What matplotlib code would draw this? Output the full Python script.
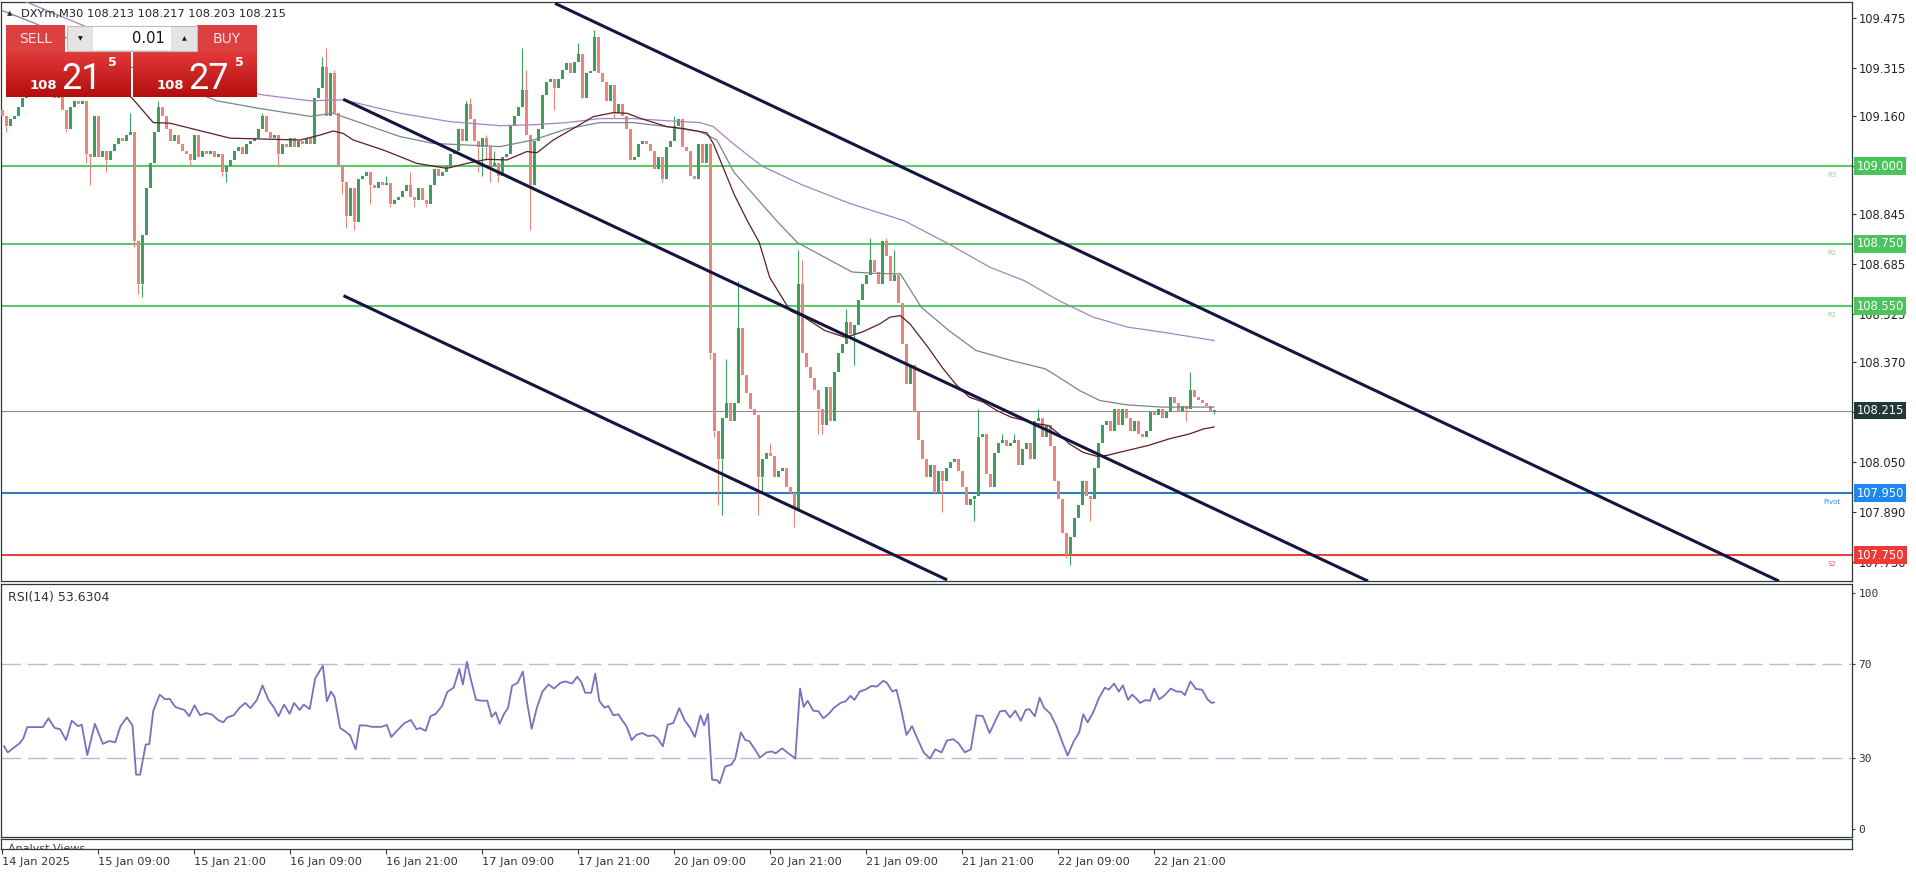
import numpy as np
import matplotlib.pyplot as plt
from matplotlib.patches import Rectangle
from matplotlib.colors import LinearSegmentedColormap

# ---- data: DXYm M30, bar index 0 = first bar on screen ----
symbol = "DXYm,M30"
first_open = 109.18
closes = [
    109.16, 109.13, 109.15, 109.16, 109.19, 109.22, 109.23, 109.25, 109.24, 109.24,
    109.25, 109.23, 109.24, 109.22, 109.24, 109.18, 109.12, 109.19, 109.21, 109.20,
    109.21, 109.04, 109.03, 109.16, 109.03, 109.05, 109.02, 109.05, 109.07, 109.09,
    109.08, 109.10, 109.11, 108.76, 108.62, 108.78, 108.93, 109.01, 109.11, 109.19,
    109.16, 109.12, 109.08, 109.10, 109.07, 109.05, 109.04, 109.02, 109.10, 109.03,
    109.05, 109.04, 109.05, 109.03, 109.04, 108.98, 109.00, 109.02, 109.05, 109.06,
    109.04, 109.07, 109.08, 109.09, 109.12, 109.16, 109.11, 109.09, 109.10, 109.04,
    109.07, 109.06, 109.09, 109.06, 109.08, 109.07, 109.09, 109.07, 109.22, 109.25,
    109.32, 109.16, 109.30, 109.17, 109.00, 108.95, 108.84, 108.93, 108.82, 108.96,
    108.97, 108.98, 108.94, 108.93, 108.95, 108.94, 108.945, 108.88, 108.89, 108.90,
    108.92, 108.94, 108.90, 108.89, 108.93, 108.89, 108.88, 108.94, 108.99, 108.97,
    108.98, 109.00, 109.04, 109.05, 109.12, 109.08, 109.20, 109.15, 109.08, 109.06,
    109.09, 109.06, 109.00, 109.01, 108.97, 109.03, 109.04, 109.13, 109.16, 109.19,
    109.245, 109.10, 108.94, 109.08, 109.12, 109.23, 109.27, 109.28, 109.25, 109.28,
    109.31, 109.33, 109.30, 109.335, 109.36, 109.22, 109.30, 109.305, 109.415, 109.30,
    109.27, 109.21, 109.26, 109.17, 109.20, 109.16, 109.12, 109.02, 109.03, 109.07,
    109.08, 109.07, 109.05, 108.99, 109.03, 108.96, 109.06, 109.08, 109.13, 109.15,
    109.06, 109.05, 108.97, 108.96, 109.07, 109.01, 109.07, 108.40, 108.15, 108.06,
    108.19, 108.24, 108.18, 108.24, 108.48, 108.33, 108.27, 108.22, 108.20, 108.00,
    108.06, 108.08, 108.07, 108.00, 108.02, 108.03, 107.97, 107.95, 107.90, 108.62,
    108.40, 108.355, 108.32, 108.28, 108.22, 108.17, 108.29, 108.18, 108.34, 108.40,
    108.43, 108.50, 108.46, 108.49, 108.57, 108.62, 108.65, 108.70, 108.66, 108.62,
    108.76, 108.71, 108.63, 108.65, 108.56, 108.43, 108.30, 108.36, 108.21, 108.12,
    108.06, 108.00, 108.04, 107.95, 108.02, 107.99, 108.03, 108.05, 108.06, 108.02,
    107.97, 107.91, 107.93, 107.94, 108.13, 108.14, 108.01, 107.97, 108.08, 108.11,
    108.12, 108.10, 108.11, 108.12, 108.04, 108.09, 108.11, 108.06, 108.18, 108.19,
    108.13, 108.17, 108.10, 107.99, 107.93, 107.82, 107.75, 107.81, 107.87, 107.91,
    107.99, 107.94, 107.93, 108.03, 108.11, 108.17, 108.18, 108.15, 108.22, 108.17,
    108.22, 108.19, 108.15, 108.18, 108.14, 108.13, 108.15, 108.21, 108.20, 108.22,
    108.19, 108.21, 108.26, 108.24, 108.21, 108.23, 108.22, 108.28, 108.26, 108.25,
    108.24, 108.23, 108.213, 108.215,
]
# wick ends that stick out of the body (bar index -> price)
bar_highs = {
    7: 109.27, 10: 109.27, 32: 109.17, 39: 109.21, 65: 109.17, 80: 109.35, 81: 109.38,
    83: 109.31, 96: 108.97, 102: 108.98, 116: 109.21, 117: 109.22, 121: 109.10,
    123: 109.05, 130: 109.38, 131: 109.31, 144: 109.395, 148: 109.437, 168: 109.16,
    181: 108.38, 184: 108.63, 192: 108.11, 199: 108.73, 200: 108.70, 211: 108.54,
    217: 108.77, 221: 108.77, 223: 108.73, 244: 108.22, 250: 108.14, 253: 108.14,
    259: 108.22, 297: 108.34, 303: 108.217,
}
bar_lows = {
    1: 109.11, 16: 109.11, 21: 109.01, 22: 108.94, 26: 108.98, 33: 108.74, 34: 108.59,
    35: 108.58, 47: 109.00, 55: 108.97, 56: 108.95, 69: 109.00, 85: 108.91, 86: 108.80,
    88: 108.795, 92: 108.88, 97: 108.87, 103: 108.87, 106: 108.87, 119: 108.98,
    120: 108.97, 121: 109.02, 122: 108.95, 124: 108.95, 132: 108.795, 138: 109.18,
    153: 109.155, 165: 108.95, 177: 108.38, 178: 108.13, 179: 107.91, 180: 107.88,
    189: 107.88, 190: 107.95, 198: 107.84, 204: 108.14, 205: 108.14, 213: 108.36,
    235: 107.89, 243: 107.86, 266: 107.74, 267: 107.72, 272: 107.86, 296: 108.18,
    303: 108.203,
}

# moving averages (bar index, price)
ma_fast = [(20, 109.32), (32.4, 109.22), (37.8, 109.14), (42, 109.138), (57, 109.09),
           (74.5, 109.084), (79.5, 109.10), (82.8, 109.113), (85.3, 109.105), (87.8, 109.084),
           (95.3, 109.052), (103.7, 109.009), (111.2, 108.993), (116.2, 109.009), (121.2, 109.022),
           (126.2, 109.02), (131.2, 109.047), (133.7, 109.043), (137.8, 109.084), (142.8, 109.121),
           (147.8, 109.159), (152.8, 109.172), (156.2, 109.17), (159.5, 109.154), (166.2, 109.127),
           (170.3, 109.121), (176.2, 109.107), (177.8, 109.073), (179.5, 109.02), (183, 108.91),
           (186.3, 108.825), (189.3, 108.755), (191.9, 108.643), (197, 108.536), (200.5, 108.515),
           (205.7, 108.472), (210.8, 108.45), (215, 108.467), (219.4, 108.493), (222, 108.515),
           (224.6, 108.52), (227, 108.493), (231.5, 108.418), (235, 108.354), (238.4, 108.30),
           (241.8, 108.258), (245.3, 108.242), (248.7, 108.215), (252.2, 108.194), (255.6, 108.183),
           (259, 108.172), (261.6, 108.167), (264.2, 108.14), (266.8, 108.108), (270.2, 108.081),
           (273.7, 108.068), (276.3, 108.071), (281.4, 108.087), (286.6, 108.103), (291.8, 108.124),
           (296.9, 108.14), (300.4, 108.156), (303, 108.162)]
ma_mid = [(0, 109.50), (8, 109.46), (30, 109.33), (53.7, 109.21), (64.5, 109.185), (77, 109.16),
          (82.8, 109.17), (91.2, 109.132), (99.5, 109.095), (107.8, 109.073), (116.2, 109.068),
          (124.5, 109.063), (132.8, 109.084), (141.2, 109.12), (149.5, 109.14), (157.8, 109.14),
          (166.2, 109.127), (174.5, 109.111), (178.7, 109.084), (183, 108.98), (193.6, 108.825),
          (198.8, 108.755), (205.7, 108.707), (212.5, 108.66), (217.7, 108.656), (224.6, 108.654),
          (229.8, 108.547), (236.7, 108.472), (243.5, 108.408), (252.2, 108.376), (260.8, 108.349),
          (264.2, 108.322), (269.4, 108.279), (274.5, 108.247), (281.4, 108.233), (290, 108.226),
          (303, 108.226)]
ma_slow = [(0, 109.56), (30, 109.40), (64.5, 109.23), (77, 109.21), (85.3, 109.213), (99.5, 109.17),
           (112, 109.143), (124.5, 109.13), (132.8, 109.133), (141.2, 109.14), (149.5, 109.153),
           (157.8, 109.153), (166.2, 109.146), (174.5, 109.14), (177.8, 109.127), (183, 109.07),
           (190, 109.00), (200, 108.94), (212, 108.88), (225.5, 108.825), (236.7, 108.75),
           (247, 108.675), (255.6, 108.632), (264.2, 108.568), (272.8, 108.515), (281.4, 108.483),
           (290, 108.467), (303, 108.44)]

# descending channel (start, end) in (bar index, price)
channel_lines = [
    [(138.25, 109.523), (444.25, 107.667)],
    [(85.3, 109.215), (341.5, 107.667)],
    [(85.35, 108.584), (236.25, 107.671)],
]

levels = [109.000, 108.750, 108.550, 107.950, 107.750]
level_names = ["R3", "R2", "R1", "Pivot", "S2"]

rsi_points = [
    (0.5, 35.1), (1.4, 32.5), (4.4, 36.4), (5.3, 38.4), (6.3, 43.2), (10.2, 43.2), (11.6, 46.9),
    (13.1, 42.9), (14.5, 42.3), (16.0, 37.7), (17.4, 45.9), (19.0, 43.6), (19.9, 44.2), (21.3, 31.4),
    (23.2, 44.6), (25.2, 36.1), (26.7, 37.3), (28.3, 36.8), (29.6, 43.6), (31.2, 47.3), (32.6, 43.9),
    (33.5, 23.1), (34.5, 23.1), (35.9, 35.8), (36.8, 36.0), (37.8, 50.1), (39.4, 56.9), (40.7, 55.0),
    (41.9, 55.1), (43.3, 51.7), (45.6, 50.4), (46.8, 47.8), (48.1, 52.4), (49.5, 48.2), (51.0, 49.1),
    (52.4, 48.6), (54.0, 46.2), (55.3, 45.2), (56.3, 47.3), (57.9, 48.2), (59.4, 51.4), (60.8, 53.4),
    (62.1, 51.2), (63.7, 54.7), (65.1, 60.8), (66.6, 54.7), (68.0, 51.4), (69.1, 47.8), (70.5, 52.7),
    (71.9, 48.8), (73.0, 53.4), (74.4, 50.4), (75.4, 52.7), (76.9, 50.8), (78.3, 63.9), (80.2, 69.1),
    (81.2, 54.1), (82.2, 58.2), (83.1, 56.0), (84.5, 42.9), (86.1, 41.0), (87.0, 39.7), (88.4, 33.8),
    (89.4, 43.9), (90.9, 43.9), (92.5, 43.3), (94.8, 43.3), (96.2, 44.1), (97.3, 39.0), (98.7, 41.6),
    (100.6, 44.9), (102.2, 46.2), (103.6, 42.3), (104.5, 42.8), (105.9, 41.6), (107.1, 47.8),
    (108.4, 48.8), (110.0, 52.1), (111.3, 58.0), (112.9, 59.9), (114.3, 67.8), (115.2, 61.2),
    (116.2, 70.8), (117.2, 63.2), (118.5, 54.7), (120.1, 54.3), (121.3, 54.4), (122.4, 47.5),
    (123.4, 49.5), (124.4, 44.6), (125.5, 48.8), (126.5, 51.4), (127.5, 60.6), (128.9, 61.9),
    (130.2, 66.7), (131.2, 54.1), (132.4, 42.5), (133.7, 51.4), (135.1, 58.2), (136.6, 61.2),
    (138.0, 59.5), (139.6, 61.9), (140.9, 62.5), (142.5, 61.6), (143.8, 64.5), (144.8, 62.2),
    (145.8, 57.7), (147.3, 57.7), (148.3, 65.8), (149.3, 54.3), (150.6, 51.4), (151.6, 52.1),
    (152.8, 48.2), (154.1, 48.6), (155.1, 45.9), (156.1, 43.6), (157.4, 37.7), (158.6, 39.9),
    (160.0, 40.7), (161.5, 39.4), (162.9, 39.7), (163.9, 38.4), (165.2, 35.1), (166.4, 44.2),
    (167.8, 44.9), (169.3, 51.2), (170.7, 45.9), (172.0, 42.9), (173.2, 39.0), (174.6, 48.2),
    (175.5, 43.9), (176.5, 48.8), (177.5, 21.0), (178.8, 20.7), (179.4, 19.4), (180.8, 26.6),
    (182.3, 27.3), (183.3, 29.9), (184.7, 41.0), (185.8, 37.7), (186.8, 37.3), (188.2, 33.8),
    (189.5, 30.3), (191.1, 32.5), (192.5, 32.9), (193.4, 32.1), (195.0, 34.2), (196.3, 32.5),
    (198.3, 29.9), (199.5, 59.5), (200.4, 51.7), (201.4, 54.3), (202.8, 50.1), (204.1, 49.9),
    (205.3, 46.9), (206.7, 48.8), (208.0, 51.4), (209.6, 53.4), (210.9, 54.1), (212.1, 56.4),
    (213.1, 54.7), (214.4, 58.2), (215.8, 59.0), (217.4, 60.6), (218.7, 60.3), (220.3, 62.8),
    (221.2, 61.9), (222.6, 58.2), (223.6, 59.0), (224.7, 51.4), (226.1, 39.9), (227.5, 43.6),
    (229.0, 37.7), (230.4, 32.5), (232.0, 29.9), (233.3, 33.8), (234.9, 32.5), (236.2, 37.5),
    (237.8, 38.1), (239.1, 36.4), (240.7, 32.5), (242.2, 33.8), (243.6, 48.2), (245.2, 47.8),
    (246.9, 40.7), (248.5, 46.5), (249.5, 49.9), (250.8, 50.1), (252.0, 47.3), (253.3, 50.1),
    (254.7, 45.9), (255.9, 50.4), (256.8, 50.8), (258.2, 47.8), (259.4, 55.6), (260.5, 51.4),
    (262.1, 48.8), (263.6, 43.6), (265.0, 37.1), (266.4, 31.2), (267.9, 37.1), (269.3, 41.0),
    (270.3, 48.6), (271.4, 45.2), (272.8, 49.5), (274.2, 55.4), (275.7, 59.9), (276.7, 59.0),
    (278.0, 61.6), (279.2, 58.2), (280.2, 60.8), (281.5, 54.7), (282.5, 56.9), (283.5, 55.4),
    (284.5, 53.4), (285.8, 54.6), (287.0, 54.3), (288.0, 59.5), (289.3, 54.9), (290.7, 56.7),
    (292.2, 59.5), (293.6, 58.2), (294.8, 58.2), (295.7, 56.7), (297.1, 62.5), (298.5, 59.3),
    (300.0, 59.0), (301.4, 54.9), (302.4, 53.4), (303.0, 53.6304),
]

tick_pos = [0, 24, 48, 72, 96, 120, 144, 168, 192, 216, 240, 264, 288]
tick_labels = ["14 Jan 2025", "15 Jan 09:00", "15 Jan 21:00", "16 Jan 09:00", "16 Jan 21:00",
               "17 Jan 09:00", "17 Jan 21:00", "20 Jan 09:00", "20 Jan 21:00", "21 Jan 09:00",
               "21 Jan 21:00", "22 Jan 09:00", "22 Jan 21:00"]
price_ticks = [109.475, 109.315, 109.160, 109.000, 108.845, 108.685, 108.525,
               108.370, 108.210, 108.050, 107.890, 107.730]
rsi_ticks = [0, 30, 70, 100]
rsi_bands = [70, 30]
bid, ask = 108.215, 108.275
lot = "0.01"

# ---- colours ----
UP = "#3f9e5e"
DOWN = "#e8867c"
SPINE = "#2e3b36"
level_colors = ["#5cc86c", "#5cc86c", "#5cc86c", "#2f7cc4", "#e2443f"]
box_colors = ["#4cc45e", "#4cc45e", "#4cc45e", "#1e88f0", "#ee3a36"]
name_colors = ["#8fd49a", "#8fd49a", "#8fd49a", "#3a8fd8", "#e06a66"]

W, H = 1916, 874
fig = plt.figure(figsize=(W / 100, H / 100), dpi=100)
fig.patch.set_facecolor("white")


def px_axes(x0, y0, x1, y1):
    return fig.add_axes([x0 / W, 1 - y1 / H, (x1 - x0) / W, (y1 - y0) / H])


ax = px_axes(0.5, 1.5, 1852, 581)
rsi_ax = px_axes(0.5, 584, 1852, 837)
av_ax = px_axes(0.5, 839, 1852, 849)

XMIN, XMAX = -0.4, 462.5
for a in (ax, rsi_ax, av_ax):
    a.set_xlim(XMIN, XMAX)
    a.set_facecolor("white")
    for s in a.spines.values():
        s.set_color(SPINE)
        s.set_linewidth(0.9)
    a.set_xticks([])

# ---- price panel ----
ax.set_ylim(107.6674, 109.529)
c = np.array(closes)
o = np.r_[first_open, c[:-1]]
idx = np.arange(len(c))
up = c >= o
bottoms = np.minimum(o, c)
heights = np.maximum(np.abs(c - o), 0.003)
ax.bar(idx, heights, bottom=bottoms, width=0.75, color=np.where(up, UP, DOWN),
       linewidth=0, zorder=3)
for i, hi in bar_highs.items():
    top = max(o[i], c[i])
    if hi > top:
        ax.vlines(i, top, hi, color=UP if up[i] else DOWN, lw=0.8, zorder=2.9)
for i, lo in bar_lows.items():
    bot = min(o[i], c[i])
    if lo < bot:
        ax.vlines(i, lo, bot, color=UP if up[i] else DOWN, lw=0.8, zorder=2.9)

for pts, col in ((ma_slow, "#a983c0"), (ma_mid, "#74878f"), (ma_fast, "#5e1d28")):
    xs, ys = zip(*pts)
    ax.plot(xs, ys, color=col, lw=0.9, zorder=4)

for (x0, y0), (x1, y1) in channel_lines:
    ax.plot([x0, x1], [y0, y1], color="#15153f", lw=2.2, zorder=5, solid_capstyle="butt")

for lvl, name, col, ncol in zip(levels, level_names, level_colors, name_colors):
    ax.axhline(lvl, color=col, lw=1.5, zorder=2)
    ax.annotate(name, xy=(457.5, lvl), xytext=(0, -4), textcoords="offset points",
                ha="center", va="top", fontsize=5, color=ncol, zorder=6)
last = closes[-1]
ax.axhline(last, color="#8c8c8c", lw=0.8, zorder=2)

ax.yaxis.tick_right()
ax.set_yticks(price_ticks)
ax.set_yticklabels([f"{t:.3f}" for t in price_ticks])
ax.tick_params(axis="y", direction="out", length=3, width=0.8, pad=2,
               labelsize=8.3, colors=SPINE, labelcolor="#222222")

for lvl, bc in list(zip(levels, box_colors)) + [(last, "#243838")]:
    ax.annotate(f"{lvl:.3f}", xy=(1, lvl), xycoords=("axes fraction", "data"),
                xytext=(3.4, 0), textcoords="offset points", ha="left", va="center",
                fontsize=8.3, color="white", annotation_clip=False, zorder=20,
                bbox=dict(boxstyle="square,pad=0.2", fc=bc, ec="none"))

# ---- RSI panel ----
rsi_ax.set_ylim(-3.24, 103.66)
for b in rsi_bands:
    rsi_ax.axhline(b, color="#c6b2d6", lw=1.0, dashes=(14, 5), zorder=1)
rx, ry = zip(*rsi_points)
rsi_ax.plot(rx, ry, color="#7f6dbf", lw=1.3, zorder=3)
rsi_ax.yaxis.tick_right()
rsi_ax.set_yticks(rsi_ticks)
rsi_ax.set_yticklabels([str(t) for t in rsi_ticks], family="DejaVu Sans Mono")
rsi_ax.tick_params(axis="y", direction="out", length=2.5, width=0.8, pad=2,
                   labelsize=8, colors=SPINE, labelcolor="#333333")
rsi_ax.text(8 / 1851.5, 1 - 14 / 253, f"RSI(14) {ry[-1]:.4f}", transform=rsi_ax.transAxes,
            ha="left", va="center", fontsize=9, color="#333333")

# ---- analyst views strip + time axis ----
av_ax.set_ylim(0, 1)
av_ax.set_yticks([])
av_ax.text(8 / 1851.5, 0.55, "Analyst Views", transform=av_ax.transAxes, ha="left",
           va="top", fontsize=8, color="#444444", clip_on=True)
av_ax.set_xticks(tick_pos)
av_ax.set_xticklabels(tick_labels)
av_ax.tick_params(axis="x", direction="out", length=3.5, width=0.8, pad=2,
                  labelsize=8.2, colors=SPINE, labelcolor="#333333")
for lab in av_ax.get_xticklabels():
    lab.set_horizontalalignment("left")

# ---- header text and one-click trading panel (pixel overlay) ----
ov = fig.add_axes([0, 0, 1, 1], zorder=10)
ov.set_facecolor("none")
ov.axis("off")

ov.text(10, 13.5, "\u25B2", fontsize=5, color="#333333", ha="center", va="center")
ov.text(21, 13.5, f"{symbol} {o[-1]:.3f} {bar_highs[len(c) - 1]:.3f} "
                   f"{bar_lows[len(c) - 1]:.3f} {c[-1]:.3f}",
        fontsize=8.2, color="#222222", ha="left", va="center")

grad = LinearSegmentedColormap.from_list("btn", ["#e23a3a", "#b30d0d"])
ramp = np.linspace(0, 1, 64).reshape(-1, 1)
for x0, x1 in ((6, 131), (133, 257)):
    ov.imshow(ramp, cmap=grad, extent=(x0, x1, 97, 52), aspect="auto", origin="upper", zorder=1)
for x0, x1, lab in ((6, 65, "SELL"), (197, 257, "BUY")):
    ov.add_patch(Rectangle((x0, 25), x1 - x0, 27, fc="#dc4040", ec="none", zorder=1))
    ov.text((x0 + x1) / 2, 39, lab, fontsize=10, color="#fbe4e4", ha="center", va="center",
            zorder=3)
ov.add_patch(Rectangle((67, 26), 130, 25, fc="#e4e4e4", ec="#bdbdbd", lw=0.8, zorder=1))
ov.add_patch(Rectangle((93, 27), 78, 23, fc="white", ec="none", zorder=2))
ov.text(80, 38.5, "\u25BC", fontsize=4.5, color="#111111", ha="center", va="center", zorder=3)
ov.text(184, 38.5, "\u25B2", fontsize=4.5, color="#111111", ha="center", va="center", zorder=3)
ov.text(165, 38.5, lot, fontsize=10.5, color="#111111", ha="right", va="center", zorder=3)

big_font = ["Liberation Sans Narrow", "Roboto", "DejaVu Sans"]
for price, x0 in ((bid, 30), (ask, 157)):
    s = f"{price:.3f}"
    ov.text(x0, 89, s[:3], fontsize=9.5, fontweight="bold", color="white", ha="left",
            va="baseline", zorder=3)
    ov.text(x0 + 31, 89, s[4:6], fontsize=26, family=big_font, color="white", ha="left",
            va="baseline", zorder=3)
    ov.text(x0 + 78, 63, s[6], fontsize=9, fontweight="bold", color="white", ha="left",
            va="center", zorder=3)

ov.set_xlim(0, W)
ov.set_ylim(H, 0)

fig.savefig("out.png", dpi=100)
